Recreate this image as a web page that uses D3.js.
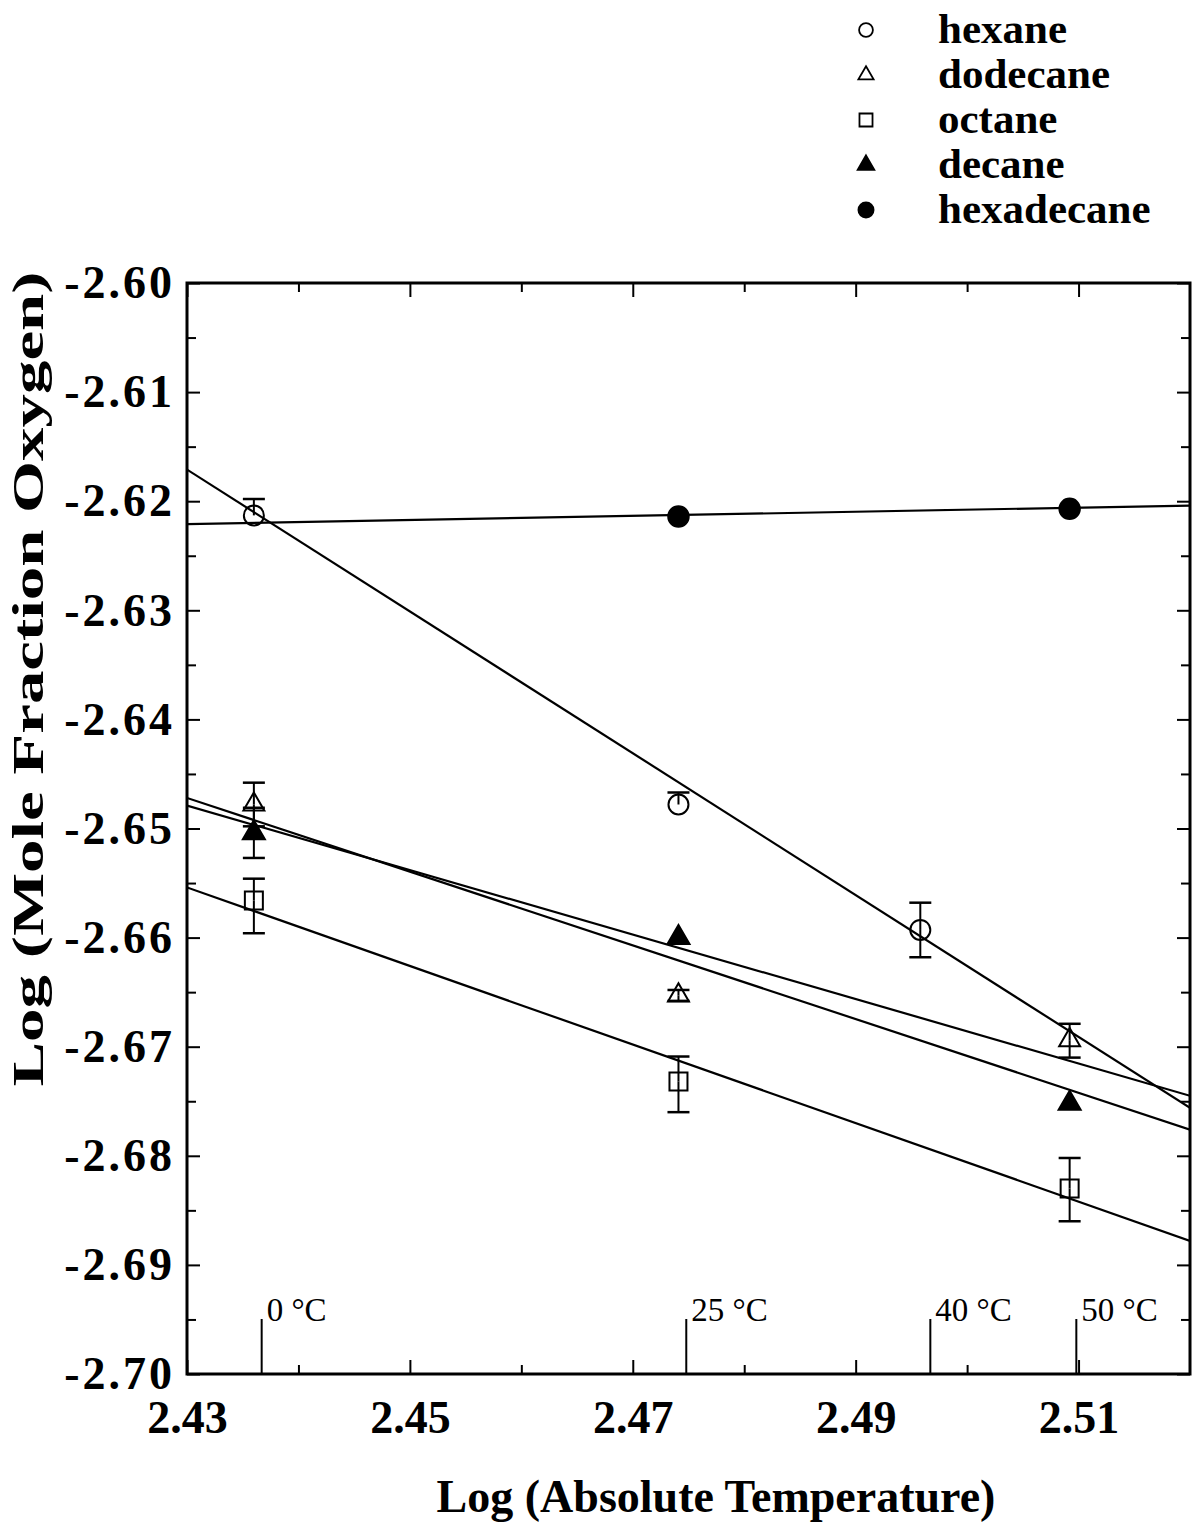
<!DOCTYPE html>
<html>
<head>
<meta charset="utf-8">
<script src="https://cdn.jsdelivr.net/npm/d3@7"></script>
<style>
  body { margin: 0; background: #fff; }
  svg { display: block; }
  text { font-family: "Liberation Serif", "Times New Roman", serif; fill: #000; }
</style>
</head>
<body>
<div id="chart"></div>
<script>
// Data
var seriesNames = ["hexane", "dodecane", "octane", "decane", "hexadecane"];

// log(T) positions of the measurements
var hexaneX = [2.4360, 2.4741, 2.4958];
var hexaneY = [-2.6213, -2.6478, -2.6593];
var hexaneErrUp = [0.0015, 0.0011, 0.0025];
var hexaneErrDown = [0, 0, 0.0025];

var dodecaneX = [2.4360, 2.4741, 2.5092];
var dodecaneY = [-2.6478, -2.6653, -2.6694];
var dodecaneErrUp = [0.0020, 0.0005, 0.0015];
var dodecaneErrDown = [0.0020, 0.0005, 0.0016];

var octaneX = [2.4360, 2.4741, 2.5092];
var octaneY = [-2.6566, -2.6732, -2.6830];
var octaneErrUp = [0.0020, 0.0023, 0.0028];
var octaneErrDown = [0.0030, 0.0028, 0.0030];

var decaneX = [2.4360, 2.4741, 2.5092];
var decaneY = [-2.6504, -2.6600, -2.6752];
var decaneErrUp = [0.0023, 0, 0];
var decaneErrDown = [0.0023, 0, 0];

var hexadecaneX = [2.4741, 2.5092];
var hexadecaneY = [-2.6214, -2.6207];

// fitted lines, value at x = 2.43 and at x = 2.52
var fitX = [2.43, 2.52];
var hexaneFit = [-2.6171, -2.6756];
var dodecaneFit = [-2.6479, -2.6745];
var octaneFit = [-2.6554, -2.6878];
var decaneFit = [-2.6472, -2.6776];
var hexadecaneFit = [-2.6221, -2.6204];

// temperature markers
var tempLabels = ["0 \u00B0C", "25 \u00B0C", "40 \u00B0C", "50 \u00B0C"];
var tempX = [2.4367, 2.4748, 2.4967, 2.5098];

var xMajor = [2.43, 2.45, 2.47, 2.49, 2.51];
var xMinor = [2.44, 2.46, 2.48, 2.50];
var yMajor = [-2.60, -2.61, -2.62, -2.63, -2.64, -2.65, -2.66, -2.67, -2.68, -2.69, -2.70];
var yMinor = [-2.605, -2.615, -2.625, -2.635, -2.645, -2.655, -2.665, -2.675, -2.685, -2.695];

var width = 1194;
var height = 1524;
var plot = { left: 187, right: 1190, top: 283, bottom: 1374 };

var svg = d3.select('#chart')
            .append('svg')
            .attr('width', width)
            .attr('height', height);

var x = d3.scaleLinear().domain([2.43, 2.52]).range([plot.left, plot.right]);
var y = d3.scaleLinear().domain([-2.70, -2.60]).range([plot.bottom, plot.top]);

// clip for the fit lines
svg.append('clipPath').attr('id', 'clip')
   .append('rect')
   .attr('x', plot.left).attr('y', plot.top)
   .attr('width', plot.right - plot.left).attr('height', plot.bottom - plot.top);

// Axes (ticks point inward)
function styleAxis(g) {
    g.select('.domain').remove();
    g.selectAll('.tick line').attr('stroke', '#000').attr('stroke-width', 2);
}

svg.append('g')
   .attr('transform', 'translate(0,' + plot.bottom + ')')
   .call(d3.axisBottom(x).tickValues(xMajor).tickSize(-14).tickPadding(26).tickFormat(d3.format('.2f')))
   .call(styleAxis)
   .selectAll('text')
   .style('font-size', '46px').style('font-weight', 'bold');

svg.append('g')
   .attr('transform', 'translate(0,' + plot.bottom + ')')
   .call(d3.axisBottom(x).tickValues(xMinor).tickSize(-9).tickFormat(''))
   .call(styleAxis);

svg.append('g')
   .attr('transform', 'translate(0,' + plot.top + ')')
   .call(d3.axisTop(x).tickValues(xMajor).tickSize(-14).tickFormat(''))
   .call(styleAxis);

svg.append('g')
   .attr('transform', 'translate(0,' + plot.top + ')')
   .call(d3.axisTop(x).tickValues(xMinor).tickSize(-9).tickFormat(''))
   .call(styleAxis);

svg.append('g')
   .attr('transform', 'translate(' + plot.left + ',0)')
   .call(d3.axisLeft(y).tickValues(yMajor).tickSize(-13).tickPadding(12).tickFormat(d3.format('.2f')))
   .call(styleAxis)
   .selectAll('text')
   .style('font-size', '46px').style('font-weight', 'bold')
   .style('letter-spacing', '3px')
   .text(d => d3.format('.2f')(d).replace('\u2212', '-'));

svg.append('g')
   .attr('transform', 'translate(' + plot.left + ',0)')
   .call(d3.axisLeft(y).tickValues(yMinor).tickSize(-9).tickFormat(''))
   .call(styleAxis);

svg.append('g')
   .attr('transform', 'translate(' + plot.right + ',0)')
   .call(d3.axisRight(y).tickValues(yMajor).tickSize(-13).tickFormat(''))
   .call(styleAxis);

svg.append('g')
   .attr('transform', 'translate(' + plot.right + ',0)')
   .call(d3.axisRight(y).tickValues(yMinor).tickSize(-9).tickFormat(''))
   .call(styleAxis);

// frame
svg.append('rect')
   .attr('x', plot.left).attr('y', plot.top)
   .attr('width', plot.right - plot.left).attr('height', plot.bottom - plot.top)
   .attr('fill', 'none').attr('stroke', '#000').attr('stroke-width', 3);

// Temperature markers
tempX.forEach(function (t, i) {
    svg.append('line')
       .attr('x1', x(t)).attr('x2', x(t))
       .attr('y1', plot.bottom).attr('y2', plot.bottom - 55)
       .attr('stroke', '#000').attr('stroke-width', 2);
    svg.append('text')
       .attr('x', x(t) + 5)
       .attr('y', plot.bottom - 53)
       .style('font-size', '33px')
       .text(tempLabels[i]);
});

// Fit lines
var fits = [hexaneFit, dodecaneFit, octaneFit, decaneFit, hexadecaneFit];
fits.forEach(function (f) {
    svg.append('line')
       .attr('clip-path', 'url(#clip)')
       .attr('x1', x(fitX[0])).attr('y1', y(f[0]))
       .attr('x2', x(fitX[1])).attr('y2', y(f[1]))
       .attr('stroke', '#000').attr('stroke-width', 2.2);
});

// Error bars
function errorBars(xs, ys, up, down) {
    xs.forEach(function (xv, i) {
        var cx = x(xv);
        if (up[i] > 0) {
            svg.append('line').attr('x1', cx).attr('x2', cx)
               .attr('y1', y(ys[i])).attr('y2', y(ys[i] + up[i]))
               .attr('stroke', '#000').attr('stroke-width', 2);
            svg.append('line').attr('x1', cx - 11).attr('x2', cx + 11)
               .attr('y1', y(ys[i] + up[i])).attr('y2', y(ys[i] + up[i]))
               .attr('stroke', '#000').attr('stroke-width', 2.5);
        }
        if (down[i] > 0) {
            svg.append('line').attr('x1', cx).attr('x2', cx)
               .attr('y1', y(ys[i])).attr('y2', y(ys[i] - down[i]))
               .attr('stroke', '#000').attr('stroke-width', 2);
            svg.append('line').attr('x1', cx - 11).attr('x2', cx + 11)
               .attr('y1', y(ys[i] - down[i])).attr('y2', y(ys[i] - down[i]))
               .attr('stroke', '#000').attr('stroke-width', 2.5);
        }
    });
}
errorBars(hexaneX, hexaneY, hexaneErrUp, hexaneErrDown);
errorBars(dodecaneX, dodecaneY, dodecaneErrUp, dodecaneErrDown);
errorBars(octaneX, octaneY, octaneErrUp, octaneErrDown);
errorBars(decaneX, decaneY, decaneErrUp, decaneErrDown);

// Markers
var markerType = [d3.symbolCircle, d3.symbolTriangle, d3.symbolSquare, d3.symbolTriangle, d3.symbolCircle];
var markerFill = ['none', 'none', 'none', '#000', '#000'];
var markerSize = [314, 190, 324, 210, 330];
var legendSize = [150, 100, 170, 120, 180];

var allX = [hexaneX, dodecaneX, octaneX, decaneX, hexadecaneX];
var allY = [hexaneY, dodecaneY, octaneY, decaneY, hexadecaneY];

allX.forEach(function (xs, s) {
    svg.selectAll('.m' + s)
       .data(xs)
       .enter()
       .append('path')
       .attr('class', 'm' + s)
       .attr('d', d3.symbol().type(markerType[s]).size(markerSize[s]))
       .attr('transform', (d, i) => 'translate(' + x(d) + ',' + y(allY[s][i]) + ')')
       .attr('fill', markerFill[s])
       .attr('stroke', '#000')
       .attr('stroke-width', 2);
});

// Legend
seriesNames.forEach(function (name, i) {
    var ly = 30 + i * 45;
    svg.append('path')
       .attr('d', d3.symbol().type(markerType[i]).size(legendSize[i]))
       .attr('transform', 'translate(866,' + ly + ')')
       .attr('fill', markerFill[i])
       .attr('stroke', '#000')
       .attr('stroke-width', 1.8);
    svg.append('text')
       .attr('x', 938)
       .attr('y', ly + 13)
       .style('font-size', '43px')
       .style('font-weight', 'bold')
       .text(name);
});

// Axis titles
svg.append('text')
   .attr('x', 716)
   .attr('y', 1512)
   .attr('text-anchor', 'middle')
   .style('font-size', '46px')
   .style('font-weight', 'bold')
   .text('Log (Absolute Temperature)');

svg.append('text')
   .attr('transform', 'translate(43,679) rotate(-90)')
   .attr('text-anchor', 'middle')
   .attr('textLength', 815)
   .attr('lengthAdjust', 'spacingAndGlyphs')
   .style('font-size', '44px')
   .style('font-weight', 'bold')
   .text('Log (Mole Fraction Oxygen)');
</script>
</body>
</html>
